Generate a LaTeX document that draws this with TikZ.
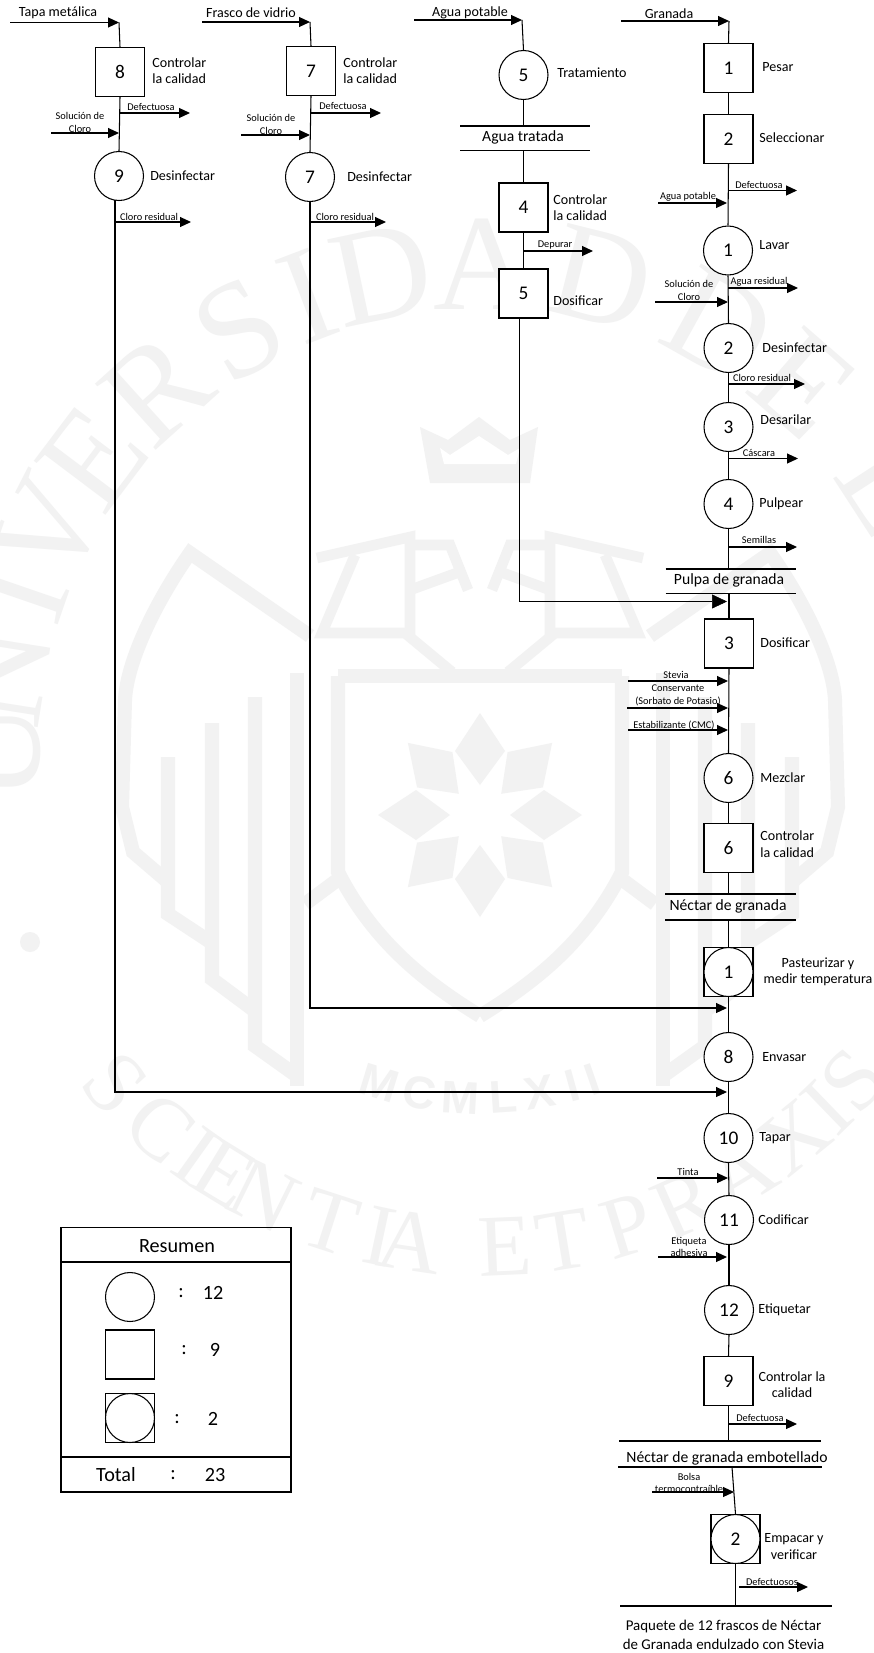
\documentclass[tikz,border=0pt]{standalone}
\usepackage{fontspec}
\setmainfont{Carlito}
\newfontfamily\wmserif{Liberation Serif}
\newfontfamily\wmsans{Liberation Sans}
\usetikzlibrary{arrows.meta}
\definecolor{wm}{HTML}{F2F2F2}
\tikzset{
  conn/.style={draw=black,line width=0.6pt},
  flow/.style={conn,-{Triangle[length=0.22cm,width=0.2cm]}},
  bigflow/.style={draw=black,line width=0.35pt,-{Triangle[length=0.3cm,width=0.28cm]}},
  circ/.style={circle,draw=black,line width=0.6pt,fill=white,minimum size=0.98cm,inner sep=0pt,font=\fontsize{11}{12}\selectfont},
  sq/.style={rectangle,draw=black,line width=0.6pt,fill=white,minimum size=0.98cm,inner sep=0pt,font=\fontsize{11}{12}\selectfont},
  lbl/.style={inner sep=0pt,anchor=west,align=left,font=\fontsize{8}{9.3}\selectfont},
  lblc/.style={inner sep=0pt,align=center,font=\fontsize{8}{9.3}\selectfont},
  tiny/.style={inner sep=0pt,align=center,font=\fontsize{5.9}{7.3}\selectfont},
  inp/.style={inner sep=0pt,font=\fontsize{8}{9}\selectfont},
  title/.style={inner sep=0pt,font=\fontsize{8.9}{10}\selectfont},
  sumtxt/.style={inner sep=0pt,font=\fontsize{11.5}{12}\selectfont},
  bar/.style={draw=black,line width=0.6pt},
  wmline/.style={draw=wm,line width=8pt,line join=miter},
  wmtop/.style={inner sep=0pt,text=wm,font=\wmserif\fontsize{78}{80}\selectfont},
  wmbot/.style={inner sep=0pt,text=wm,font=\wmserif\fontsize{50}{55}\selectfont},
  wmyear/.style={inner sep=0pt,text=wm,font=\wmsans\bfseries\fontsize{26}{28}\selectfont},
}
\newcommand{\flowarrow}[5]{\coordinate (#1s) at (#2,#3);\coordinate (#1e) at (#4,#5);\draw[flow] (#1s) -- (#1e);}
\newcommand{\barline}[4]{\coordinate (#1s) at (#2,#4);\coordinate (#1e) at (#3,#4);\draw[bar] (#1s) -- (#1e);}
\newcommand{\halfseal}{%
  % outer outline and stair steps
  \draw[wmline] (310,636) -- (190,553) .. controls (157,600) and (127,660) .. (125,700) -- (122,807) -- (133,852) -- (168,882);
  \draw[wmline] (168,757) -- (168,914) -- (212,943);
  \draw[wmline] (212,723) -- (212,979) -- (255,1011);
  \draw[wmline] (255,697) -- (255,1046) -- (297,1076);
  \draw[wmline] (297,673) -- (297,1086);
  \draw[wmline] (338,676) -- (338,872) .. controls (375,945) and (430,985) .. (480,1016);
  \draw[wmline] (340,878) -- (305,904);
  \draw[wmline] (338,676) -- (480,676);
  % book / roof
  \draw[wmline,line width=6pt] (317,558) -- (410,537) -- (410,638);
  \draw[wmline,line width=6pt] (355,555) -- (322,633) -- (405,633) -- (452,672);
  \draw[wmline,line width=6pt] (410,590) -- (465,570);
  \draw[wmline,line width=6pt] (412,545) -- (450,545) -- (468,590);
}
\begin{document}
\begin{tikzpicture}[x=0.02cm,y=-0.02cm]
\useasboundingbox (0,0) rectangle (874,1653);
\fill[white] (0,0) rectangle (874,1653);
% ---------- watermark seal
\begin{scope}
\clip (0,0) rectangle (874,1653);
\foreach \ch/\ang in {U/180,N/171,I/161,V/153,E/143,R/132,S/120,I/111,D/102,A/90,D/76,D/61,E/49,L/33,I/22,M/9,A/-8}{
  \node[wmtop,rotate=\ang-90] (wt\ang) at ({483+488*cos(\ang)},{752-488*sin(\ang)}) {\ch};}
\foreach \ch/\ang in {S/222,C/229.4,I/234.6,E/238.5,N/243.7,T/252,I/258,A/261.5,E/272.5,T/279.3,P/287,R/294,A/301.5,X/309,I/314,S/318.5}{
  \node[wmbot,rotate=\ang+90] (wb\ang) at ({483+495*cos(\ang)},{752-495*sin(\ang)}) {\ch};}
\foreach \ch/\ang in {M/253,C/260,M/266.7,L/273.8,X/280,I/285.5,I/289}{
  \node[wmyear,rotate=\ang+90] (wy\ang) at ({480+346*cos(\ang)},{752-346*sin(\ang)}) {\ch};}
\fill[wm] (30,942) circle (10);
\halfseal
\begin{scope}[shift={(960,0)},xscale=-1]
\halfseal
\end{scope}
% star
\foreach \a in {0,45,...,315}{
  \begin{scope}[shift={(480,815)},rotate=\a]
    \fill[wm] (0,30) -- (25,64) -- (0,102) -- (-25,64) -- cycle;
  \end{scope}}
% crown
\fill[wm] (420,427) -- (448,440) -- (479,417) -- (510,440) -- (538,427) -- (530,483) -- (430,483) -- cycle;
\fill[white] (440,448) -- (450,455) -- (479,436) -- (508,455) -- (520,448) -- (516,464) -- (444,464) -- cycle;
\end{scope}
% ---------- column 1: Tapa metalica
\node[inp] (t1) at (58,13) {Tapa metálica};
\flowarrow{f1}{10}{22.5}{119}{22.5}
\node[sq] (b8) at (120,72) {8};
\node[lbl] (l8) at (152,71) {Controlar\\la calidad};
\draw[conn] (f1e) -- (b8.north);
\flowarrow{f2}{120}{113}{190}{113}
\node[tiny] (t2) at (151,107) {Defectuosa};
\node[tiny] (t3) at (80,122.5) {Solución de\\Cloro};
\flowarrow{f3}{51}{133}{119}{133}
\node[circ] (c9) at (119,176) {9};
\node[lbl] (l9) at (150,176) {Desinfectar};
\draw[conn] (b8.south) -- (c9.north);
\coordinate (c9b) at (115,200);
\coordinate (c9c) at (115,1092);
\coordinate (c9d) at (727,1092);
\draw[flow] (c9b) -- (c9c) -- (c9d);
\flowarrow{f4}{115}{222}{191}{222}
\node[tiny] (t4) at (149,217) {Cloro residual};
% ---------- column 2: Frasco
\node[inp] (t5) at (251,13) {Frasco de vidrio};
\flowarrow{f5}{202}{22}{310}{22}
\node[sq] (b7) at (311,71) {7};
\node[lbl] (l7) at (343,71) {Controlar\\la calidad};
\draw[conn] (f5e) -- (b7.north);
\flowarrow{f6}{311}{113}{381}{113}
\node[tiny] (t6) at (343,106) {Defectuosa};
\node[tiny] (t7) at (271,124.5) {Solución de\\Cloro};
\flowarrow{f7}{241}{135}{310}{135}
\node[circ] (c7) at (310,177) {7};
\node[lbl] (l7b) at (347,177) {Desinfectar};
\draw[conn] (b7.south) -- (c7.north);
\coordinate (c7c) at (310,1008);
\coordinate (c7d) at (727,1008);
\draw[flow] (c7.south) -- (c7c) -- (c7d);
\flowarrow{f8}{310}{222}{386}{222}
\node[tiny] (t8) at (345,217) {Cloro residual};
% ---------- column 3: Agua
\node[inp] (t9) at (470,13) {Agua potable};
\flowarrow{f9}{414}{20}{522}{20}
\node[circ] (c5) at (523.5,75) {5};
\node[lbl] (l5) at (557,73) {Tratamiento};
\draw[conn] (f9e) -- (c5.north);
\barline{w1}{460}{590}{126}
\barline{w2}{460}{590}{150.5}
\node[title] (tw) at (523,137) {Agua tratada};
\draw[conn] (c5.south) -- (c5.south |- w1s);
\node[sq] (b4) at (523.5,207.5) {4};
\node[lbl] (l4) at (553,207.5) {Controlar\\la calidad};
\draw[conn] (b4.north |- w2s) -- (b4.north);
\node[sq] (b5) at (523.5,293.5) {5};
\node[lbl] (l5b) at (553,301) {Dosificar};
\draw[conn] (b4.south) -- (b5.north);
\flowarrow{f10}{523.5}{251}{593}{251}
\node[tiny] (t10) at (555,245) {Depurar};
\coordinate (d1) at (519,318);
\coordinate (d2) at (519,601.5);
\coordinate (d3) at (727,601.5);
\draw[bigflow] (d1) -- (d2) -- (d3);
% ---------- column 4: Granada
\node[inp] (t11) at (669,13.5) {Granada};
\flowarrow{f11}{621}{21}{729}{21}
\node[sq] (g1) at (728.5,68) {1};
\node[lbl] (lg1) at (762,67) {Pesar};
\draw[conn] (f11e) -- (g1.north);
\node[sq] (g2) at (728.5,139) {2};
\node[lbl] (lg2) at (759,138) {Seleccionar};
\draw[conn] (g1.south) -- (g2.north);
\flowarrow{f12}{728}{190.5}{797}{190.5}
\node[tiny] (t12) at (759,185) {Defectuosa};
\node[tiny] (t13) at (688,197) {Agua potable};
\flowarrow{f13}{658}{203}{727}{203}
\node[circ] (g3) at (728,250.5) {1};
\node[lbl] (lg3) at (759,245) {Lavar};
\draw[conn] (g2.south) -- (g3.north);
\flowarrow{f14}{728}{288}{798}{288}
\node[tiny] (t14) at (759,282) {Agua residual};
\node[tiny] (t15) at (689,290.5) {Solución de\\Cloro};
\flowarrow{f15}{655}{302}{728}{302}
\node[circ] (g4) at (728.5,348) {2};
\node[lbl] (lg4) at (762,348) {Desinfectar};
\draw[conn] (g3.south) -- (g4.north);
\flowarrow{f16}{728}{384}{805}{384}
\node[tiny] (t16) at (762,378) {Cloro residual};
\node[circ] (g5) at (728.5,427) {3};
\node[lbl] (lg5) at (760,420) {Desarilar};
\draw[conn] (g4.south) -- (g5.north);
\flowarrow{f17}{728}{458.5}{798}{458.5}
\node[tiny] (t17) at (759,453) {Cáscara};
\node[circ] (g6) at (728.5,504) {4};
\node[lbl] (lg6) at (759,504) {Pulpear};
\draw[conn] (g5.south) -- (g6.north);
\flowarrow{f18}{728}{547}{797}{547}
\node[tiny] (t18) at (759,540) {Semillas};
\barline{p1}{665.5}{796}{569}
\barline{p2}{665.5}{796}{593.5}
\node[title] (tp) at (729,580) {Pulpa de granada};
\draw[conn] (g6.south) -- (g6.south |- p1s);
\node[sq] (g7) at (729,643.5) {3};
\node[lbl] (lg7) at (760,643) {Dosificar};
\draw[conn] (g7.north |- p2s) -- (g7.north);
\flowarrow{f19}{628}{681}{728}{681}
\node[tiny] (t19) at (676,675) {Stevia};
\node[tiny] (t20) at (678,695.5) {Conservante\\(Sorbato de Potasio)};
\flowarrow{f20}{627}{708}{728}{708}
\node[tiny] (t21) at (674,725) {Estabilizante (CMC)};
\flowarrow{f21}{628}{730}{728}{730}
\node[circ] (g8) at (728.5,778) {6};
\node[lbl] (lg8) at (760,778) {Mezclar};
\draw[conn] (g7.south) -- (g8.north);
\node[sq] (g9) at (728.5,848) {6};
\node[lbl] (lg9) at (760,844) {Controlar\\la calidad};
\draw[conn] (g8.south) -- (g9.north);
\barline{n1}{665}{796}{894}
\barline{n2}{665}{796}{920}
\node[title] (tn) at (728,906) {Néctar de granada};
\draw[conn] (g9.south) -- (g9.south |- n1s);
\node[sq] (g10s) at (728.5,972) {};
\node[circ] (g10) at (728.5,972) {1};
\node[lblc] (lg10) at (818,971.5) {Pasteurizar y\\medir temperatura};
\draw[conn] (g10s.north |- n2s) -- (g10s.north);
\node[circ] (g11) at (728.5,1057) {8};
\node[lbl] (lg11) at (762,1057) {Envasar};
\draw[conn] (g10s.south) -- (g11.north);
\node[circ] (g12) at (728.5,1138) {10};
\node[lbl] (lg12) at (759,1138) {Tapar};
\draw[conn] (g11.south) -- (g12.north);
\flowarrow{f22}{657}{1178}{728}{1178}
\node[tiny] (t22) at (688,1172) {Tinta};
\node[circ] (g13) at (729,1220) {11};
\node[lbl] (lg13) at (758,1220) {Codificar};
\draw[conn] (g12.south) -- (g13.north);
\node[tiny] (t23) at (689,1247) {Etiqueta\\adhesiva};
\flowarrow{f23}{658}{1257}{727}{1257}
\node[circ] (g14) at (729,1310) {12};
\node[lbl] (lg14) at (758,1310) {Etiquetar};
\draw[conn] (g13.south) -- (g14.north);
\node[sq] (g15) at (728.5,1381) {9};
\node[lblc] (lg15) at (792,1384.5) {Controlar la\\calidad};
\draw[conn] (g14.south) -- (g15.north);
\flowarrow{f24}{728}{1424}{797}{1424}
\node[tiny] (t24) at (760,1418) {Defectuosa};
\barline{e1}{619}{821}{1441}
\barline{e2}{618}{822}{1467}
\node[title] (te) at (727,1458) {Néctar de granada embotellado};
\draw[conn] (g15.south) -- (g15.south |- e1s);
\node[sq] (h1s) at (735.5,1539) {};
\node[circ] (h1) at (735.5,1539) {2};
\node[lblc] (lh1) at (794,1546.5) {Empacar y\\verificar};
\coordinate (e2c) at (732,1467);
\draw[conn] (e2c) -- (h1s.north);
\node[tiny] (t25) at (689,1483) {Bolsa\\termocontraíble};
\flowarrow{f25}{652}{1492}{734}{1492}
\coordinate (e3s) at (620,1606);
\coordinate (e3e) at (832,1606);
\draw[bar] (e3s) -- (e3e);
\draw[conn] (h1s.south) -- (h1s.south |- e3s);
\flowarrow{f26}{739}{1587}{808}{1587}
\node[tiny] (t26) at (772,1582) {Defectuosos};
\node[inner sep=0pt,align=center,font=\fontsize{8.5}{11}\selectfont] (tf) at (723.5,1635) {Paquete de 12 frascos de Néctar\\de Granada endulzado con Stevia};
% ---------- summary
\node[draw=black,line width=0.6pt,minimum width=4.6cm,minimum height=5.3cm,inner sep=0pt] (sum) at (176,1359.5) {};
\coordinate (s1) at (61,1262);
\coordinate (s2) at (291,1262);
\coordinate (s3) at (61,1457);
\coordinate (s4) at (291,1457);
\draw[bar] (s1) -- (s2);
\draw[bar] (s3) -- (s4);
\node[sumtxt] (sr) at (177,1246) {Resumen};
\node[circ] (sc) at (130,1297) {};
\node[sumtxt] (sc1) at (181,1293) {:};
\node[sumtxt] (sc2) at (213,1293) {12};
\node[sq] (ss) at (130,1354.5) {};
\node[sumtxt] (ss1) at (184,1350) {:};
\node[sumtxt] (ss2) at (215,1350) {9};
\node[sq] (sb) at (130,1418) {};
\node[circ] (sbc) at (130,1418) {};
\node[sumtxt] (sb1) at (177,1419) {:};
\node[sumtxt] (sb2) at (213,1419) {2};
\node[sumtxt] (st) at (116,1475) {Total};
\node[sumtxt] (st1) at (173,1475) {:};
\node[sumtxt] (st2) at (215,1475) {23};
\end{tikzpicture}
\end{document}
